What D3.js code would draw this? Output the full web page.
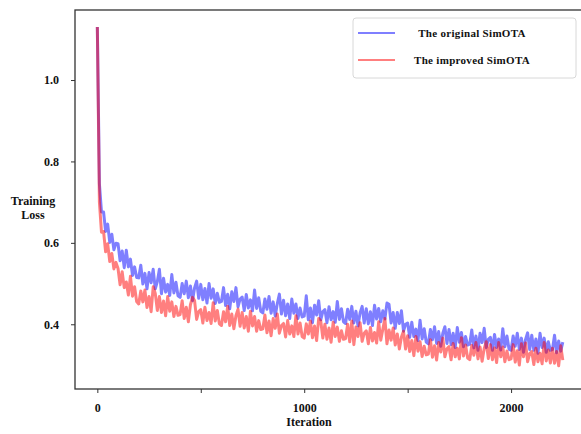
<!DOCTYPE html>
<html>
<head>
<meta charset="utf-8">
<script src="https://cdn.jsdelivr.net/npm/d3@7"></script>
<style>
  body { margin: 0; background: #fff; }
  text { font-family: "Liberation Serif", "Times New Roman", serif; font-weight: bold; fill: #111; }
</style>
</head>
<body>
<div class="canva"></div>
<script>
// sampled every 10 iterations
const iterations = d3.range(0, 2251, 10);

const original = [
  1.130, 0.745, 0.676, 0.676, 0.628, 0.646, 0.601, 0.621, 0.583, 0.599,
  0.598, 0.556, 0.580, 0.539, 0.582, 0.541, 0.560, 0.520, 0.541, 0.515,
  0.514, 0.545, 0.499, 0.525, 0.487, 0.527, 0.502, 0.535, 0.487, 0.505,
  0.535, 0.475, 0.513, 0.479, 0.498, 0.471, 0.522, 0.477, 0.503, 0.470,
  0.466, 0.500, 0.475, 0.506, 0.465, 0.494, 0.458, 0.489, 0.506, 0.464,
  0.498, 0.460, 0.488, 0.452, 0.500, 0.464, 0.487, 0.451, 0.476, 0.454,
  0.456, 0.490, 0.446, 0.474, 0.438, 0.480, 0.456, 0.490, 0.443, 0.462,
  0.467, 0.434, 0.473, 0.440, 0.460, 0.433, 0.484, 0.439, 0.465, 0.432,
  0.428, 0.462, 0.437, 0.468, 0.427, 0.455, 0.420, 0.451, 0.474, 0.425,
  0.459, 0.421, 0.450, 0.414, 0.462, 0.427, 0.450, 0.414, 0.440, 0.418,
  0.420, 0.470, 0.411, 0.440, 0.404, 0.447, 0.423, 0.458, 0.411, 0.431,
  0.436, 0.404, 0.443, 0.411, 0.431, 0.405, 0.456, 0.412, 0.438, 0.406,
  0.402, 0.437, 0.412, 0.444, 0.403, 0.432, 0.396, 0.428, 0.444, 0.403,
  0.438, 0.401, 0.431, 0.397, 0.447, 0.413, 0.439, 0.406, 0.433, 0.413,
  0.452, 0.449, 0.403, 0.429, 0.390, 0.429, 0.402, 0.433, 0.383, 0.400,
  0.403, 0.368, 0.405, 0.370, 0.388, 0.360, 0.410, 0.364, 0.389, 0.356,
  0.352, 0.387, 0.362, 0.394, 0.353, 0.382, 0.346, 0.378, 0.394, 0.353,
  0.387, 0.350, 0.378, 0.343, 0.392, 0.356, 0.380, 0.345, 0.370, 0.349,
  0.351, 0.386, 0.342, 0.371, 0.336, 0.378, 0.355, 0.390, 0.343, 0.363,
  0.368, 0.336, 0.375, 0.343, 0.364, 0.337, 0.389, 0.345, 0.371, 0.339,
  0.336, 0.371, 0.346, 0.378, 0.338, 0.366, 0.331, 0.363, 0.379, 0.338,
  0.373, 0.336, 0.364, 0.329, 0.378, 0.343, 0.366, 0.331, 0.357, 0.336,
  0.338, 0.373, 0.330, 0.359, 0.334, 0.356
];

const improved = [
  1.130, 0.700, 0.626, 0.628, 0.578, 0.598, 0.554, 0.574, 0.536, 0.552,
  0.537, 0.497, 0.529, 0.490, 0.504, 0.472, 0.518, 0.469, 0.492, 0.456,
  0.450, 0.482, 0.455, 0.484, 0.441, 0.468, 0.431, 0.492, 0.476, 0.434,
  0.468, 0.429, 0.457, 0.421, 0.468, 0.432, 0.455, 0.419, 0.444, 0.422,
  0.424, 0.458, 0.414, 0.442, 0.406, 0.448, 0.466, 0.458, 0.412, 0.431,
  0.436, 0.403, 0.442, 0.409, 0.429, 0.402, 0.453, 0.408, 0.434, 0.401,
  0.397, 0.431, 0.406, 0.444, 0.397, 0.425, 0.389, 0.421, 0.437, 0.395,
  0.429, 0.391, 0.419, 0.383, 0.432, 0.396, 0.419, 0.383, 0.409, 0.387,
  0.389, 0.423, 0.379, 0.408, 0.372, 0.414, 0.390, 0.425, 0.378, 0.397,
  0.402, 0.369, 0.409, 0.376, 0.396, 0.370, 0.421, 0.376, 0.403, 0.370,
  0.366, 0.401, 0.376, 0.408, 0.367, 0.396, 0.360, 0.414, 0.408, 0.366,
  0.400, 0.363, 0.391, 0.356, 0.405, 0.370, 0.393, 0.358, 0.384, 0.363,
  0.365, 0.400, 0.357, 0.408, 0.350, 0.393, 0.370, 0.404, 0.358, 0.378,
  0.384, 0.352, 0.392, 0.359, 0.380, 0.354, 0.406, 0.361, 0.388, 0.414,
  0.352, 0.386, 0.361, 0.391, 0.349, 0.376, 0.339, 0.369, 0.383, 0.339,
  0.372, 0.333, 0.360, 0.323, 0.370, 0.334, 0.357, 0.321, 0.346, 0.325,
  0.327, 0.362, 0.319, 0.347, 0.312, 0.355, 0.332, 0.366, 0.320, 0.340,
  0.345, 0.313, 0.353, 0.320, 0.341, 0.315, 0.367, 0.322, 0.349, 0.317,
  0.313, 0.348, 0.324, 0.355, 0.315, 0.344, 0.309, 0.340, 0.357, 0.316,
  0.350, 0.313, 0.342, 0.306, 0.355, 0.320, 0.344, 0.308, 0.334, 0.313,
  0.315, 0.350, 0.307, 0.335, 0.300, 0.352, 0.320, 0.354, 0.308, 0.328,
  0.333, 0.301, 0.341, 0.308, 0.329, 0.303, 0.355, 0.310, 0.337, 0.305,
  0.341, 0.304, 0.333, 0.298, 0.347, 0.312
];

const xTicks = [0, 500, 1000, 1500, 2000];
const xTickLabels = ["0", "", "1000", "", "2000"];
const yTicks = [0.4, 0.6, 0.8, 1.0];
const seriesNames = ["The original SimOTA", "The improved SimOTA"];

const WIDTH = 581;
const HEIGHT = 434;
const PLOT = { LEFT: 75, RIGHT: 587, TOP: 10, BOTTOM: 389 };

const svg = d3.select(".canva").append("svg")
    .attr("width", WIDTH)
    .attr("height", HEIGHT);

svg.append("rect").attr("width", WIDTH).attr("height", HEIGHT).attr("fill", "#fff");

const x = d3.scaleLinear().domain([-108, 2367]).range([PLOT.LEFT, PLOT.RIGHT]);
const y = d3.scaleLinear().domain([0.241, 1.172]).range([PLOT.BOTTOM, PLOT.TOP]);

const lineOf = vals => d3.line()
    .x((d, i) => x(iterations[i]))
    .y(d => y(d))(vals);

// blue first, red drawn over it
svg.append("path")
    .attr("d", lineOf(original))
    .attr("fill", "none")
    .attr("stroke", "#0000ff")
    .attr("stroke-opacity", 0.5)
    .attr("stroke-linejoin", "round")
    .attr("stroke-width", 3);

svg.append("path")
    .attr("d", lineOf(improved))
    .attr("fill", "none")
    .attr("stroke", "#ff0000")
    .attr("stroke-opacity", 0.5)
    .attr("stroke-linejoin", "round")
    .attr("stroke-width", 3);

// axes
const xAxis = svg.append("g")
    .attr("transform", `translate(0, ${PLOT.BOTTOM})`)
    .call(d3.axisBottom(x).tickValues(xTicks).tickFormat((d, i) => xTickLabels[i]).tickSize(4).tickPadding(10));
const yAxis = svg.append("g")
    .attr("transform", `translate(${PLOT.LEFT}, 0)`)
    .call(d3.axisLeft(y).tickValues(yTicks).tickFormat(d3.format(".1f")).tickSize(4).tickPadding(12));

[xAxis, yAxis].forEach(g => {
    g.select(".domain").remove();
    g.selectAll(".tick line").attr("stroke", "#333").attr("stroke-width", 1);
    g.selectAll(".tick text")
        .attr("font-size", 12)
        .attr("font-family", "Liberation Serif, Times New Roman, serif")
        .attr("font-weight", "bold")
        .attr("fill", "#111");
});

// frame
svg.append("rect")
    .attr("x", PLOT.LEFT)
    .attr("y", PLOT.TOP)
    .attr("width", PLOT.RIGHT - PLOT.LEFT)
    .attr("height", PLOT.BOTTOM - PLOT.TOP)
    .attr("fill", "none")
    .attr("stroke", "#333")
    .attr("stroke-width", 1.3);

// labels
svg.append("text").attr("x", 309).attr("y", 426).attr("text-anchor", "middle")
    .attr("font-size", 12).text("Iteration");
svg.append("text").attr("x", 33).attr("y", 205).attr("text-anchor", "middle")
    .attr("font-size", 12).text("Training");
svg.append("text").attr("x", 33).attr("y", 219).attr("text-anchor", "middle")
    .attr("font-size", 12).text("Loss");

// legend
const legend = svg.append("g");
legend.append("rect")
    .attr("x", 353).attr("y", 18).attr("width", 223).attr("height", 60)
    .attr("rx", 3)
    .attr("fill", "#fff")
    .attr("stroke", "#d8d8d8")
    .attr("stroke-width", 1);

const legendColors = ["#0000ff", "#ff0000"];
const legendY = [33, 60];
seriesNames.forEach((name, i) => {
    legend.append("line")
        .attr("x1", 358).attr("x2", 395)
        .attr("y1", legendY[i]).attr("y2", legendY[i])
        .attr("stroke", legendColors[i])
        .attr("stroke-opacity", 0.5)
        .attr("stroke-width", 2.2);
    legend.append("text")
        .attr("x", 472).attr("y", legendY[i] + 4)
        .attr("text-anchor", "middle")
        .attr("font-size", 11)
        .attr("letter-spacing", 0.3)
        .text(name);
});
</script>
</body>
</html>
